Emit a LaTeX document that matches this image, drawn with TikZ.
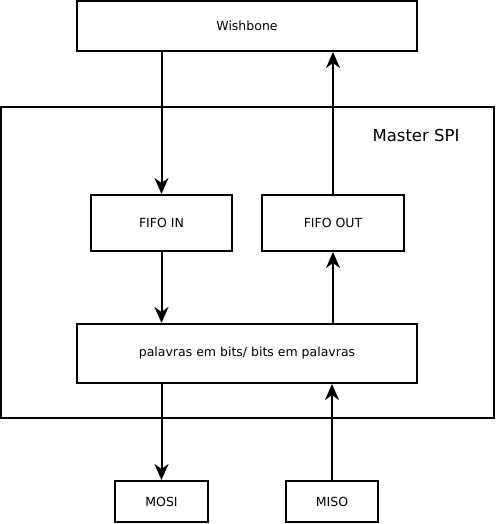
\documentclass[tikz,border=0pt]{standalone}
\usepackage{fontspec}
\setmainfont{DejaVu Sans}
\usetikzlibrary{arrows.meta}
\begin{document}
\begin{tikzpicture}[x=1pt,y=-1pt,
  blk/.style={draw,line width=2pt,inner sep=0pt,font=\fontsize{12.5}{14}\selectfont},
  arr/.style={line width=2pt,-{Stealth[length=16pt,width=14pt,inset=5pt]}}]
\useasboundingbox (0,0) rectangle (496,524);
\draw[line width=2pt] (1,107) rectangle (494,418);
\node[font=\fontsize{16.5}{18}\selectfont] (title) at (416,135) {Master SPI};
\node[blk,minimum width=340pt,minimum height=50pt] (wb) at (247,26) {Wishbone};
\node[blk,minimum width=141pt,minimum height=56pt] (fin) at (161.5,223) {FIFO IN};
\node[blk,minimum width=142pt,minimum height=56pt] (fout) at (333,223) {FIFO OUT};
\node[blk,minimum width=340pt,minimum height=59pt] (pal) at (247,353.5) {palavras em bits/ bits em palavras};
\node[blk,minimum width=93pt,minimum height=41pt] (mosi) at (161.5,501.5) {MOSI};
\node[blk,minimum width=92pt,minimum height=41pt] (miso) at (332,501.5) {MISO};
\draw[arr] (wb.south -| fin.north) -- (fin.north);
\draw[arr] (fout.north) -- (fout.north |- wb.south);
\draw[arr] (fin.south) -- (fin.south |- pal.north);
\draw[arr] (pal.north -| fout.south) -- (fout.south);
\draw[arr] (pal.south -| mosi.north) -- (mosi.north);
\draw[arr] (miso.north) -- (miso.north |- pal.south);
\end{tikzpicture}
\end{document}
